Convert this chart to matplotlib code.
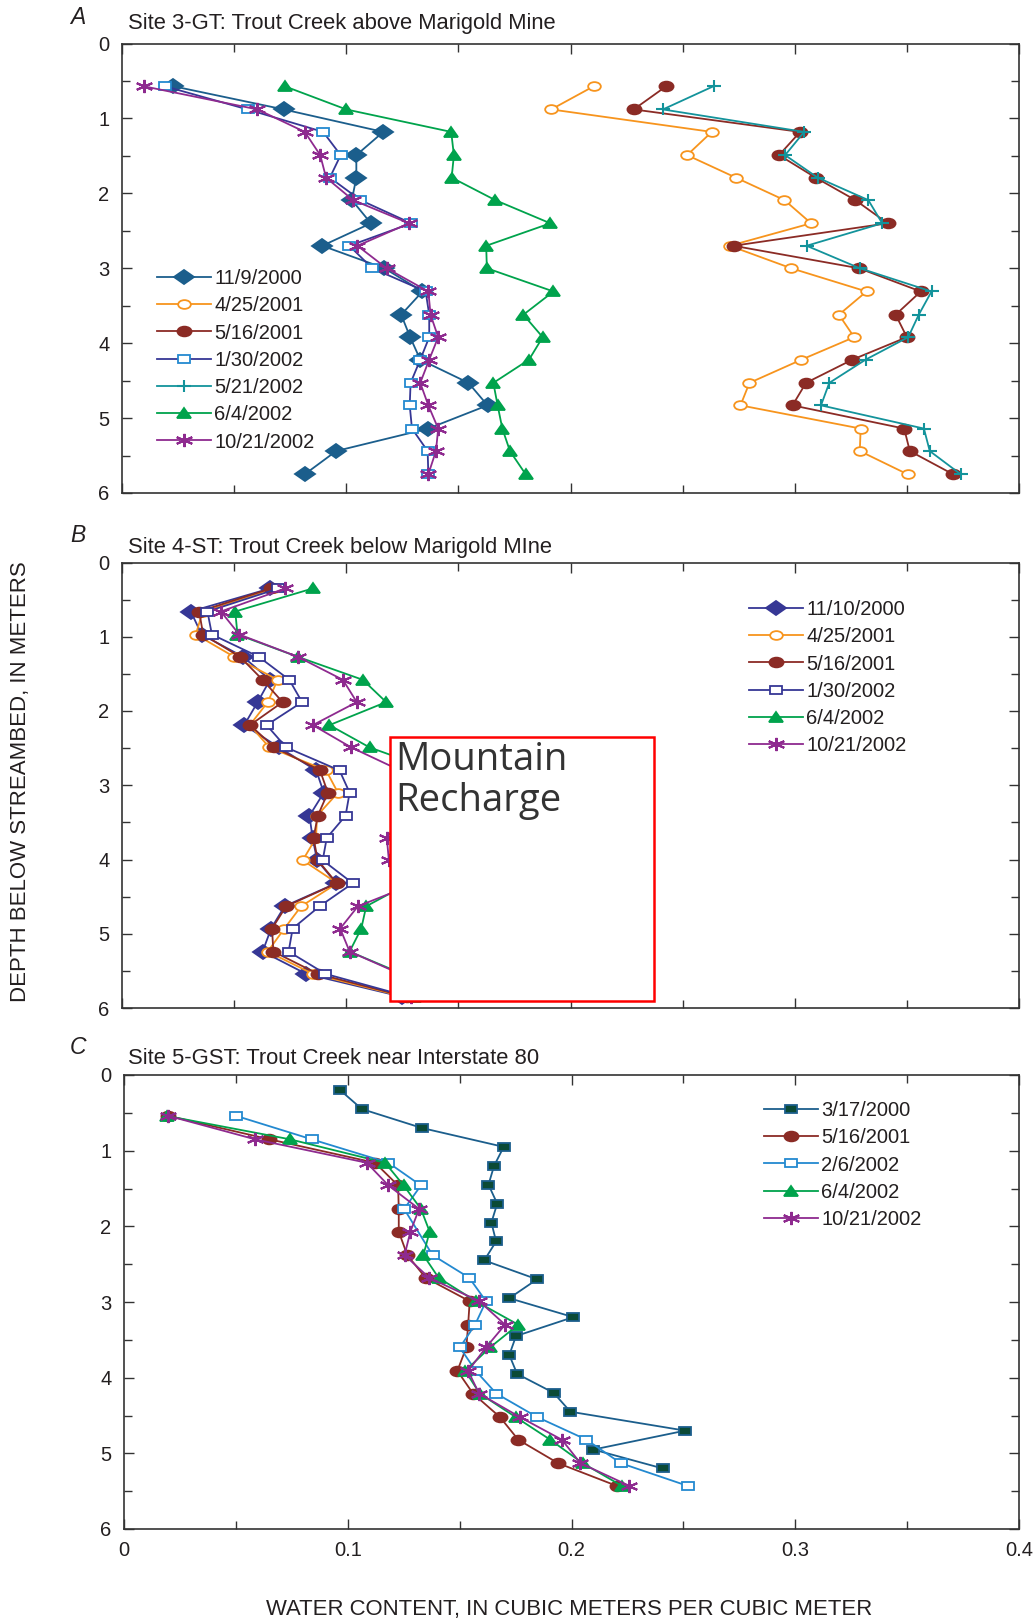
import matplotlib
matplotlib.use("Agg")
import matplotlib.pyplot as plt
from matplotlib.markers import MarkerStyle
from matplotlib.transforms import Affine2D
from matplotlib.patches import Rectangle

plt.rcParams['font.family'] = ['Liberation Sans', 'DejaVu Sans']

# ---------------- data (depth in m, water content in m3/m3) ----------------
DEPTH_A = [0.57, 0.88, 1.18, 1.49, 1.79, 2.09, 2.40, 2.70, 3.00, 3.31, 3.62, 3.92,
           4.22, 4.53, 4.83, 5.14, 5.44, 5.75]
A_20001109 = [0.0228, 0.0721, 0.1165, 0.1045, 0.1045, 0.1025, 0.1110, 0.0893, 0.1170,
              0.1340, 0.1245, 0.1285, 0.1330, 0.1545, 0.1630, 0.1366, 0.0955, 0.0815]
A_20010425 = [0.2104, 0.1914, 0.2630, 0.2520, 0.2737, 0.2954, 0.3073, 0.2710, 0.2984,
              0.3320, 0.3197, 0.3265, 0.3030, 0.2798, 0.2758, 0.3294, 0.3290, 0.3503]
A_20010516 = [0.2427, 0.2282, 0.3024, 0.2930, 0.3093, 0.3270, 0.3414, 0.2727, 0.3286,
              0.3562, 0.3450, 0.3500, 0.3257, 0.3050, 0.2990, 0.3488, 0.3513, 0.3706]
A_20020130 = [0.0190, 0.0560, 0.0897, 0.0975, 0.0927, 0.1063, 0.1290, 0.1014, 0.1116,
              0.1354, 0.1370, 0.1370, 0.1330, 0.1287, 0.1283, 0.1293, 0.1363, 0.1366]
A_20020521 = [0.2638, 0.2412, 0.3042, 0.2957, 0.3102, 0.3328, 0.3390, 0.3053, 0.3290,
              0.3610, 0.3553, 0.3506, 0.3316, 0.3154, 0.3117, 0.3576, 0.3602, 0.3740]
A_20020604 = [0.0725, 0.1000, 0.1468, 0.1480, 0.1470, 0.1664, 0.1910, 0.1624, 0.1627,
              0.1924, 0.1790, 0.1876, 0.1815, 0.1656, 0.1675, 0.1696, 0.1730, 0.1800]
A_20021021 = [0.0096, 0.0604, 0.0815, 0.0884, 0.0910, 0.1030, 0.1280, 0.1050, 0.1180,
              0.1366, 0.1376, 0.1410, 0.1370, 0.1330, 0.1366, 0.1410, 0.1400, 0.1366]

DEPTH_B = [0.35, 0.66, 0.97, 1.27, 1.58, 1.88, 2.19, 2.49, 2.80, 3.10, 3.41, 3.71,
           4.01, 4.32, 4.63, 4.93, 5.24, 5.54, 5.85]
B_20001110 = [0.0660, 0.0307, 0.0355, 0.0540, 0.0660, 0.0605, 0.0545, 0.0700, 0.0866, 0.0900,
              0.0836, 0.0850, 0.0870, 0.0955, 0.0725, 0.0665, 0.0627, 0.0821, 0.1250]
B_20010425 = [0.0680, 0.0360, 0.0329, 0.0500, 0.0694, 0.0650, 0.0570, 0.0657, 0.0910, 0.0963,
              0.0870, 0.0865, 0.0806, 0.0960, 0.0799, 0.0724, 0.0650, 0.0851, 0.1260]
B_20010516 = [0.0664, 0.0344, 0.0362, 0.0526, 0.0627, 0.0716, 0.0571, 0.0680, 0.0883, 0.0918,
              0.0873, 0.0854, 0.0873, 0.0958, 0.0732, 0.0669, 0.0675, 0.0873, 0.1270]
B_20020130 = [0.0697, 0.0381, 0.0401, 0.0610, 0.0746, 0.0803, 0.0645, 0.0732, 0.0970, 0.1015,
              0.0997, 0.0913, 0.0895, 0.1029, 0.0881, 0.0761, 0.0743, 0.0907, 0.1280]
B_20020604 = [0.0850, 0.0505, 0.0515, 0.0784, 0.1074, 0.1178, 0.0925, 0.1104, 0.1390, 0.1500,
              0.1550, 0.1500, 0.1450, 0.1280, 0.1089, 0.1067, 0.1015, 0.1250, 0.1300]
B_20021021 = [0.0727, 0.0441, 0.0523, 0.0784, 0.0985, 0.1047, 0.0851, 0.1022, 0.1240, 0.1300,
              0.1250, 0.1181, 0.1190, 0.1310, 0.1052, 0.0973, 0.1015, 0.1240, 0.1290]

DEPTH_C = [0.54, 0.85, 1.16, 1.46, 1.77, 2.07, 2.38, 2.68, 2.99, 3.30, 3.60, 3.91,
           4.21, 4.52, 4.82, 5.13, 5.43]
DEPTH_C_0317 = [0.20, 0.45, 0.70, 0.95, 1.20, 1.45, 1.70, 1.95, 2.20, 2.45, 2.70, 2.95,
                3.20, 3.45, 3.70, 3.95, 4.20, 4.45, 4.70, 4.95, 5.20]
DEPTH_C_0206 = [0.54, 0.85, 1.16, 1.46, 1.77, 2.38, 2.68, 2.99, 3.30, 3.60, 3.91,
                4.21, 4.52, 4.82, 5.13, 5.43]
C_20000317 = [0.0966, 0.1063, 0.1331, 0.1697, 0.1654, 0.1629, 0.1668, 0.1642, 0.1663, 0.1610,
              0.1846, 0.1722, 0.2008, 0.1752, 0.1722, 0.1757, 0.1920, 0.1995, 0.2508, 0.2098,
              0.2408]
C_20010516 = [0.0198, 0.0650, 0.1122, 0.1225, 0.1228, 0.1228, 0.1266, 0.1348, 0.1545, 0.1538,
              0.1530, 0.1490, 0.1560, 0.1680, 0.1762, 0.1940, 0.2202]
C_20020206 = [0.0501, 0.0839, 0.1182, 0.1327, 0.1252, 0.1379, 0.1543, 0.1618, 0.1569, 0.1501,
              0.1572, 0.1664, 0.1846, 0.2067, 0.2220, 0.2519]
C_20020604 = [0.0190, 0.0742, 0.1167, 0.1250, 0.1327, 0.1366, 0.1338, 0.1406, 0.1573, 0.1762,
              0.1636, 0.1525, 0.1590, 0.1750, 0.1905, 0.2050, 0.2225]
C_20021021 = [0.0198, 0.0586, 0.1085, 0.1182, 0.1319, 0.1280, 0.1254, 0.1364, 0.1588, 0.1703,
              0.1618, 0.1538, 0.1587, 0.1769, 0.1957, 0.2040, 0.2259]

X_TICKS = [0, 0.1, 0.2, 0.3, 0.4]
X_TICK_LABELS = ['0', '0.1', '0.2', '0.3', '0.4']
Y_TICKS = [0, 1, 2, 3, 4, 5, 6]

# ---------------- styles ----------------
NAVY = '#1b5e8c'
ORANGE = '#f7941d'
BROWN = '#8b2b25'
INDIGO = '#363795'
LTBLUE = '#2389d0'
TEAL = '#13939b'
GREEN = '#00a34c'
PURPLE = '#8e2a8f'
DKGREEN = '#0b4a36'
INK = '#231f20'


def mk(shape, sx=1.45):
    return MarkerStyle(shape, transform=Affine2D().scale(sx, 1.0))


def series(ax, x, y, label, color, marker, ms, face=None, edge=None, sx=1.45, mew=1.3):
    ax.plot(x, y, color=color, lw=1.3, marker=mk(marker, sx), ms=ms,
            markerfacecolor=face if face else color,
            markeredgecolor=edge if edge else color,
            markeredgewidth=mew, label=label)


def style_axes(ax, show_x):
    ax.set_xlim(0, 0.4)
    ax.set_ylim(6, 0)
    ax.set_xticks(X_TICKS)
    ax.set_xticks([0.05, 0.15, 0.25, 0.35], minor=True)
    ax.set_yticks(Y_TICKS)
    ax.set_yticks([0.5, 1.5, 2.5, 3.5, 4.5, 5.5], minor=True)
    if show_x:
        ax.set_xticklabels(X_TICK_LABELS)
    else:
        ax.set_xticklabels([])
    ax.tick_params(which='both', direction='in', top=True, right=True,
                   colors='#333333', labelcolor=INK, labelsize=14.5, width=1.0)
    ax.tick_params(which='major', length=7)
    ax.tick_params(which='minor', length=6)
    ax.tick_params(axis='y', pad=9)
    ax.tick_params(axis='x', pad=9)
    for s in ax.spines.values():
        s.set_color('#333333')
        s.set_linewidth(1.2)


W, H = 1034, 1620
fig = plt.figure(figsize=(W / 100, H / 100), dpi=100)


def add_axes(left, right, top, bottom):
    return fig.add_axes([left / W, 1 - bottom / H, (right - left) / W, (bottom - top) / H])


def legend(ax, x, y):
    ax.legend(loc='upper left', bbox_to_anchor=(x / W, 1 - y / H), bbox_transform=fig.transFigure,
              frameon=False, fontsize=14.5, handlelength=2.7, handletextpad=0.15,
              labelspacing=0.41, borderpad=0, borderaxespad=0, labelcolor=INK)


# ---- Panel A ----
axA = add_axes(122, 1019, 43.5, 493)
series(axA, A_20001109, DEPTH_A, '11/9/2000', NAVY, 'D', 6.8)
series(axA, A_20010425, DEPTH_A, '4/25/2001', ORANGE, 'o', 6.3, face='white')
series(axA, A_20010516, DEPTH_A, '5/16/2001', BROWN, 'o', 7.0)
series(axA, A_20020130, DEPTH_A, '1/30/2002', INDIGO, 's', 5.3, face='white', edge=LTBLUE, sx=1.6)
series(axA, A_20020521, DEPTH_A, '5/21/2002', TEAL, '+', 9, sx=1.15, mew=1.5)
series(axA, A_20020604, DEPTH_A, '6/4/2002', GREEN, '^', 6.8, sx=1.5)
series(axA, A_20021021, DEPTH_A, '10/21/2002', PURPLE, (6, 2, 0), 9.5, sx=1.35, mew=1.5)
style_axes(axA, False)
legend(axA, 157, 269)

# ---- Panel B ----
axB = add_axes(122, 1019, 562.5, 1008)
series(axB, B_20001110, DEPTH_B, '11/10/2000', INDIGO, 'D', 6.8)
series(axB, B_20010425, DEPTH_B, '4/25/2001', ORANGE, 'o', 6.3, face='white')
series(axB, B_20010516, DEPTH_B, '5/16/2001', BROWN, 'o', 7.0)
series(axB, B_20020130, DEPTH_B, '1/30/2002', INDIGO, 's', 5.3, face='white', sx=1.6)
series(axB, B_20020604, DEPTH_B, '6/4/2002', GREEN, '^', 6.8, sx=1.5)
series(axB, B_20021021, DEPTH_B, '10/21/2002', PURPLE, (6, 2, 0), 9.5, sx=1.35, mew=1.5)
style_axes(axB, False)
legend(axB, 749, 600)
axB.add_patch(Rectangle((0.2988, 0.0157), 0.2942, 0.5926, transform=axB.transAxes,
                        facecolor='white', edgecolor='#ff0000', lw=1.8, zorder=5))
axB.text(0.3044, 0.600, 'Mountain\nRecharge', transform=axB.transAxes, ha='left', va='top',
         fontsize=27.5, color='#333333', linespacing=1.13, zorder=6,
         family=['Open Sans', 'DejaVu Sans'])

# ---- Panel C ----
axC = add_axes(124, 1019, 1075, 1529)
series(axC, C_20000317, DEPTH_C_0317, '3/17/2000', NAVY, 's', 5.8, face=DKGREEN, edge=NAVY, sx=1.6)
series(axC, C_20010516, DEPTH_C, '5/16/2001', BROWN, 'o', 7.0)
series(axC, C_20020206, DEPTH_C_0206, '2/6/2002', LTBLUE, 's', 5.3, face='white', sx=1.6)
series(axC, C_20020604, DEPTH_C, '6/4/2002', GREEN, '^', 6.8, sx=1.5)
series(axC, C_20021021, DEPTH_C, '10/21/2002', PURPLE, (6, 2, 0), 9.5, sx=1.35, mew=1.5)
style_axes(axC, True)
legend(axC, 764, 1101)

# ---- panel letters, titles, shared axis labels ----
for letter, title, y_let, y_tit in [('A', 'Site 3-GT: Trout Creek above Marigold Mine', 18, 24),
                                    ('B', 'Site 4-ST: Trout Creek below Marigold MIne', 536, 547),
                                    ('C', 'Site 5-GST: Trout Creek near Interstate 80', 1048, 1058)]:
    fig.text(70 / W, 1 - y_let / H, letter, fontsize=16.5, style='italic', color=INK, va='center')
    fig.text(128 / W, 1 - y_tit / H, title, fontsize=15.8, color=INK, va='center')

fig.text(21 / W, 1 - 782 / H, 'DEPTH BELOW STREAMBED, IN METERS', rotation=90,
         fontsize=16, color=INK, ha='center', va='center')
fig.text(569 / W, 1 - 1609 / H, 'WATER CONTENT, IN CUBIC METERS PER CUBIC METER',
         fontsize=15.9, color=INK, ha='center', va='center')

fig.savefig('out.png', dpi=100)
